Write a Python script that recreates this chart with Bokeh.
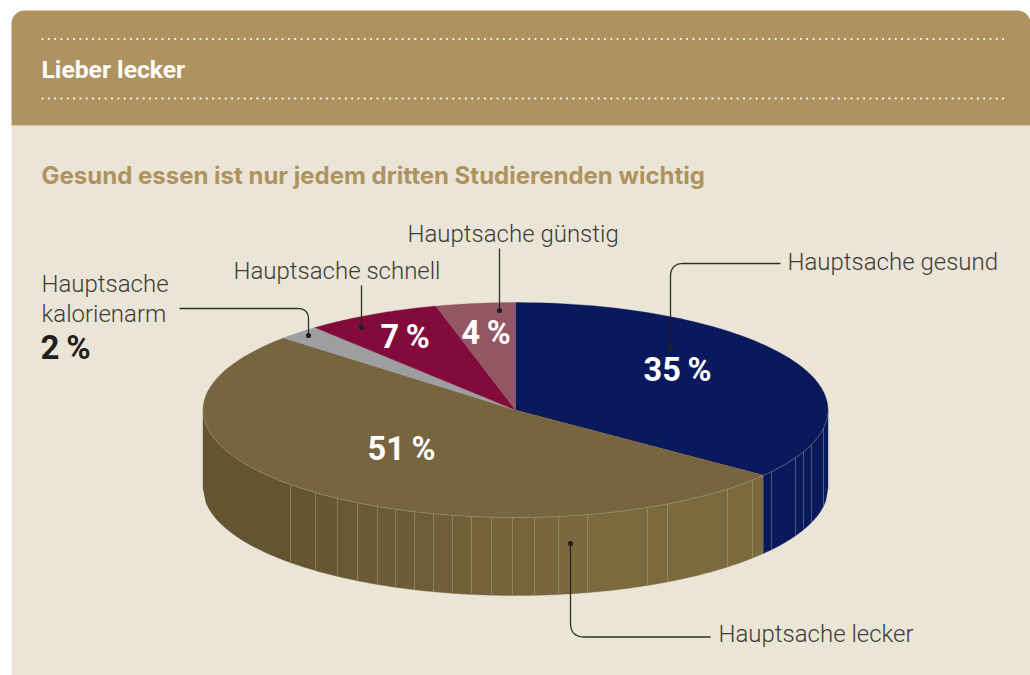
import numpy as np
from bokeh.plotting import figure
from bokeh.models import Range1d
from bokeh.core.properties import value
from bokeh.embed import file_html
from bokeh.resources import INLINE

# ---- data -------------------------------------------------------------
categories = ["Hauptsache gesund", "Hauptsache lecker", "Hauptsache kalorienarm",
              "Hauptsache schnell", "Hauptsache günstig"]
printed_shares = [35, 51, 2, 7, 4]            # percentages as printed
drawn_shares = [35.4, 51.3, 2.2, 7.0, 4.1]    # slice sizes
top_colors = ["#0a195c", "#776540", "#9d9ea0", "#830b3c", "#925762"]
pct_labels = ["35\u2009%", "51\u2009%", "2\u2009%", "7\u2009%", "4\u2009%"]
header_title = "Lieber lecker"
chart_title = "Gesund essen ist nur jedem dritten Studierenden wichtig"

# ---- layout / style ----------------------------------------------------
W, H = 1030, 675
CX, CY, RX, RY, DEPTH = 515.0, 409.5, 312.5, 107.5, 78.0
BG, GOLD = "#eae5d6", "#ae9360"
TXT, DARK = "#3f3c39", "#231f20"
LIGHT = value("Roboto Light")
BOLD = value("Roboto")
BASE_SHIFT = 0.37   # baseline correction of the text glyph, in font sizes
brown_edges = [202, 290, 315, 337, 357, 377, 395, 414, 433, 452, 471, 491, 512,
               534, 558, 587, 647, 667, 727, 752]
blue_edges = [771, 795, 803, 811, 823]
LEFT_BROWN, RIGHT_BROWN = np.array([0x64, 0x55, 0x32]), np.array([0x7c, 0x6a, 0x3f])

p = figure(width=W, height=H, x_range=Range1d(0, W), y_range=Range1d(H, 0),
           toolbar_location=None, output_backend="svg", min_border=0,
           background_fill_color="#ffffff", border_fill_color="#ffffff",
           outline_line_color=None)
p.axis.visible = False
p.grid.visible = False


def rounded_top(x0, y0, x1, y1, r):
    t = np.linspace(0, np.pi / 2, 12)
    xs = np.r_[x0, x0 + r - r * np.cos(t), x1 - r + r * np.sin(t), x1]
    ys = np.r_[y1, y0 + r - r * np.sin(t), y0 + r - r * np.cos(t), y1]
    return xs, ys


def label(x, y, s, size=24, font=LIGHT, style="normal", color=TXT):
    p.text([x], [y - BASE_SHIFT * size], text=[s], text_font=font, text_font_style=style,
           text_font_size=f"{size}px", text_color=color, text_baseline="alphabetic")


# panels
p.quad(left=11, right=W, top=125, bottom=H, fill_color=BG, line_color=None)
hx, hy = rounded_top(11, 10, W, 125, 13)
p.patch(hx, hy, fill_color=GOLD, line_color=None)
dots = np.arange(42, 1003, 6.32)
for yy in (38.5, 98):
    p.circle(dots, np.full_like(dots, yy), radius=1.05, fill_color="#ffffff", line_color=None)

# header texts
label(41, 78, header_title, 24.7, BOLD, "bold", "#ffffff")
label(41, 184, chart_title, 24, value("Inter"), "bold", GOLD)


def front_y(x, dy=0.0):
    x = np.asarray(x, dtype=float)
    return CY + dy + RY * np.sqrt(np.clip(1 - ((x - CX) / RX) ** 2, 0, 1))


def band(x0, x1, color):
    xs = np.linspace(x0, x1, 30)
    p.patch(np.r_[xs, xs[::-1]], np.r_[front_y(xs), front_y(xs[::-1], DEPTH)],
            fill_color=color, line_color=color, line_width=0.4)


# side wall: brown facets, light to the right
bounds = np.cumsum([0] + drawn_shares) * 3.6
split_x = CX + RX * np.sin(np.radians(bounds[1]))
edges = [CX - RX] + brown_edges[1:] + [split_x]
for i in range(len(edges) - 1):
    mid = (edges[i] + edges[i + 1]) / 2
    f = np.clip((mid - 290) / (600 - 290), 0, 1)
    c = LEFT_BROWN + (RIGHT_BROWN - LEFT_BROWN) * f
    band(edges[i], edges[i + 1], "#%02x%02x%02x" % tuple(int(round(v)) for v in c))
band(split_x, CX + RX, top_colors[0])
for e in brown_edges[1:]:
    p.line([e, e], [front_y(e), front_y(e, DEPTH)], line_color="#b0a483",
           line_width=0.8, line_alpha=0.5)
for e in blue_edges:
    p.line([e, e], [front_y(e), front_y(e, DEPTH)], line_color="#8a90b4",
           line_width=0.8, line_alpha=0.65)

# top face, clockwise from 12 o'clock
for i, col in enumerate(top_colors):
    th = np.radians(np.linspace(bounds[i], bounds[i + 1], 90))
    xs = np.r_[CX, CX + RX * np.sin(th)]
    ys = np.r_[CY, CY - RY * np.cos(th)]
    p.patch(xs, ys, fill_color=col, line_color=col, line_width=0.3)

# light rim on the front edge of the top face
rim = np.radians(np.linspace(90, 270, 200))
p.line(CX + RX * np.sin(rim), CY - RY * np.cos(rim), line_color="#b5aa8c",
       line_width=0.7, line_alpha=0.55)


def leader(points, radius):
    """Polyline with rounded corners."""
    pts = [np.array(q, dtype=float) for q in points]
    xs, ys = [pts[0][0]], [pts[0][1]]
    for a, b, c in zip(pts[:-2], pts[1:-1], pts[2:]):
        u, v = (a - b) / np.linalg.norm(a - b), (c - b) / np.linalg.norm(c - b)
        for t in np.linspace(0, 1, 12):
            q = (1 - t) ** 2 * (b + u * radius) + 2 * (1 - t) * t * b + t ** 2 * (b + v * radius)
            xs.append(q[0]); ys.append(q[1])
    xs.append(pts[-1][0]); ys.append(pts[-1][1])
    p.line(xs, ys, line_color=DARK, line_width=1.3, line_alpha=0.92)
    p.circle([pts[-1][0]], [pts[-1][1]], radius=2.6, fill_color=DARK, line_color=None)


leader([(780, 263), (670, 263), (670, 348)], 13)
leader([(710, 636.5), (570, 636.5), (570, 543)], 14)
leader([(179, 308), (308, 308), (308, 335)], 11)
leader([(361, 285), (361, 327)], 0)
leader([(499, 248), (499, 310)], 0)

label(787, 270, categories[0])
label(718, 642, categories[1])
label(233, 279, categories[3])
label(407, 242, categories[4])
a, b = categories[2].split(" ")
label(41, 292, a)
label(41, 322, b)
label(40, 359, pct_labels[2], 33, BOLD, "bold", DARK)

for s, x, y in ((pct_labels[0], 643, 382), (pct_labels[1], 367, 461),
                (pct_labels[3], 380, 349), (pct_labels[4], 461, 345)):
    label(x, y, s, 32.5, BOLD, "bold", "#ffffff")

open("out.html", "w").write(file_html(p, INLINE))
